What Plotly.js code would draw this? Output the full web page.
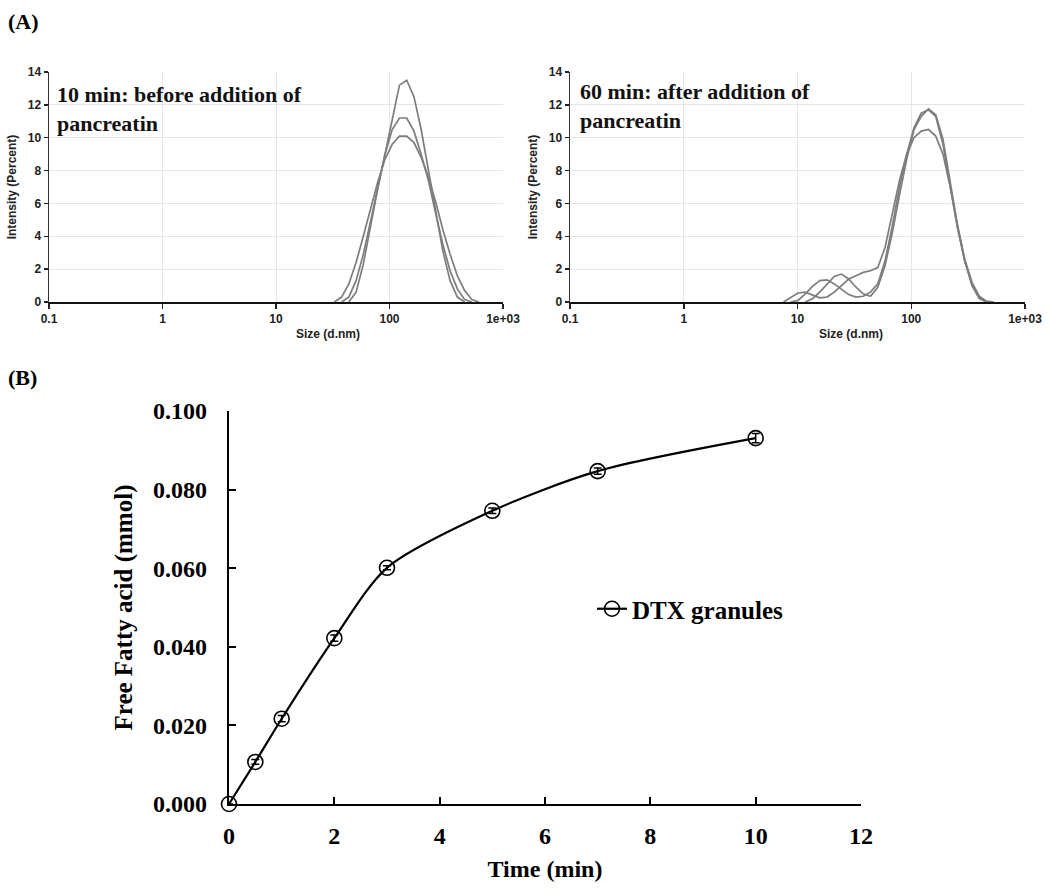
<!DOCTYPE html>
<html>
<head>
<meta charset="utf-8">
<script src="https://cdn.plot.ly/plotly-3.0.1.min.js"></script>
<style>
  html, body { margin: 0; padding: 0; background: #ffffff; }
  #chart { width: 1050px; height: 893px; }
</style>
</head>
<body>
<div id="chart"></div>
<script>
// ---------------- DATA ----------------
// DLS size classes (nm)
const sizeBins = [5.615, 6.503, 7.531, 8.721, 10.1, 11.7, 13.54, 15.69, 18.17, 21.04, 24.36, 28.21,
  32.67, 37.84, 43.82, 50.75, 58.77, 68.06, 78.82, 91.28, 105.7, 122.4, 141.8, 164.2, 190.1,
  220.2, 255.0, 295.3, 342.0, 396.1, 458.7, 531.2, 615.1, 712.4, 825.0];

// Panel A, left: 10 min, before addition of pancreatin (intensity %)
const before_run1 = [null, null, null, null, null, null, null, null, null, null, null, null,
  null, null, 0, 0.6, 2.3, 4.7, 6.9, 9.0, 11.2, 13.2, 13.5, 12.5, 10.5,
  8.0, 5.4, 3.1, 1.3, 0.3, 0, null, null, null, null];
const before_run2 = [null, null, null, null, null, null, null, null, null, null, null, null,
  null, 0, 0.3, 1.3, 2.9, 4.9, 7.0, 9.0, 10.5, 11.2, 11.2, 10.4, 9.0,
  7.4, 5.4, 3.5, 1.9, 0.8, 0.15, 0, null, null, null];
const before_run3 = [null, null, null, null, null, null, null, null, null, null, null, null,
  0, 0.3, 1.1, 2.4, 4.0, 5.7, 7.3, 8.7, 9.6, 10.1, 10.1, 9.7, 8.8,
  7.6, 6.1, 4.4, 2.9, 1.6, 0.7, 0.15, 0, null, null];

// Panel A, right: 60 min, after addition of pancreatin (intensity %)
const after_run1 = [null, null, 0, 0.3, 0.55, 0.6, 0.45, 0.25, 0.3, 0.6, 1.0, 1.4,
  1.6, 1.8, 1.9, 2.1, 3.3, 5.3, 7.4, 9.0, 10.0, 10.4, 10.5, 10.1, 9.0,
  7.0, 4.6, 2.5, 1.0, 0.2, 0, null, null, null, null];
const after_run2 = [null, null, null, 0, 0.1, 0.5, 0.95, 1.3, 1.35, 1.1, 0.8, 0.45,
  0.3, 0.35, 0.6, 1.1, 2.5, 4.6, 7.0, 9.0, 10.6, 11.5, 11.7, 11.3, 9.6,
  7.0, 4.5, 2.5, 1.1, 0.3, 0, null, null, null, null];
const after_run3 = [null, null, null, null, null, 0, 0.2, 0.6, 1.1, 1.55, 1.7, 1.4,
  0.9, 0.5, 0.35, 0.9, 2.2, 4.2, 6.5, 8.7, 10.5, 11.3, 11.75, 11.4, 9.9,
  7.2, 4.7, 2.6, 1.2, 0.35, 0.05, 0, null, null, null];

// Panel A tick labels
const sizeTickVals = [0.1, 1, 10, 100, 1000];
const sizeTickText = ['0.1', '1', '10', '100', '1e+03'];

// Panel B: free fatty acid release
const timeMin = [0, 0.5, 1, 2, 3, 5, 7, 10];
const ffaMmol = [0, 0.0107, 0.0217, 0.0422, 0.0601, 0.0746, 0.0847, 0.0931];
const ffaErr  = [0, 0.0006, 0.0008, 0.0008, 0.0005, 0.0007, 0.0008, 0.0012];

// ---------------- LAYOUT HELPERS ----------------
const W = 1050, H = 893;
const fx = p => p / W;
const fy = p => 1 - p / H;

const SANS = 'Liberation Sans, Arial, sans-serif';
const SERIF = 'Liberation Serif, Times New Roman, serif';
const GRAY = '#7d7d7d';

function dlsTrace(y, xa, ya) {
  return {
    x: sizeBins, y: y, xaxis: xa, yaxis: ya, type: 'scatter', mode: 'lines',
    line: { color: GRAY, width: 1.7 }, showlegend: false, hoverinfo: 'skip', connectgaps: false
  };
}

const traces = [
  dlsTrace(before_run3, 'x', 'y'),
  dlsTrace(before_run2, 'x', 'y'),
  dlsTrace(before_run1, 'x', 'y'),
  dlsTrace(after_run1, 'x2', 'y2'),
  dlsTrace(after_run2, 'x2', 'y2'),
  dlsTrace(after_run3, 'x2', 'y2'),
  {
    x: timeMin, y: ffaMmol, xaxis: 'x3', yaxis: 'y3', type: 'scatter', mode: 'lines+markers',
    name: 'DTX granules',
    line: { color: '#000000', width: 2.2, shape: 'spline', smoothing: 0.8 },
    marker: { symbol: 'circle-open', size: 15, color: '#000000', line: { width: 1.6, color: '#000000' } },
    error_y: { type: 'data', array: ffaErr, visible: true, color: '#000000', thickness: 1.5, width: 4 },
    cliponaxis: false, showlegend: true
  }
];

function dlsX(domain, anchor) {
  return {
    domain: domain, anchor: anchor, type: 'log', range: [-1, 3],
    tickvals: sizeTickVals, ticktext: sizeTickText,
    showgrid: true, gridcolor: '#e6e6e6', gridwidth: 1,
    ticks: 'outside', ticklen: 5, tickwidth: 1.5, tickcolor: '#222',
    showline: true, linecolor: '#111', linewidth: 2, zeroline: false,
    tickfont: { family: SANS, size: 12, color: '#222', weight: 'bold' },
    fixedrange: true
  };
}
function dlsY(domain, anchor) {
  return {
    domain: domain, anchor: anchor, range: [0, 14], dtick: 2,
    showgrid: true, gridcolor: '#e6e6e6', gridwidth: 1,
    ticks: 'outside', ticklen: 4, tickwidth: 1.5, tickcolor: '#222',
    showline: true, linecolor: '#333', linewidth: 1.5, zeroline: false,
    tickfont: { family: SANS, size: 12, color: '#222', weight: 'bold' },
    title: { text: 'Intensity (Percent)', font: { family: SANS, size: 12, color: '#222', weight: 'bold' }, standoff: 8 },
    fixedrange: true
  };
}

const yDomA = [fy(302), fy(72)];

const layout = {
  width: W, height: H,
  margin: { l: 0, r: 0, t: 0, b: 0 },
  paper_bgcolor: '#ffffff', plot_bgcolor: 'rgba(0,0,0,0)',
  showlegend: true,
  legend: {
    x: fx(592), y: fy(609), xanchor: 'left', yanchor: 'middle',
    bgcolor: 'rgba(0,0,0,0)', borderwidth: 0,
    font: { family: SERIF, size: 25, color: '#000', weight: 'bold' }
  },
  xaxis: dlsX([fx(49), fx(503)], 'y'),
  yaxis: dlsY(yDomA, 'x'),
  xaxis2: dlsX([fx(570), fx(1025)], 'y2'),
  yaxis2: dlsY(yDomA, 'x2'),
  xaxis3: {
    domain: [fx(229), fx(861)], anchor: 'y3', range: [0, 12], dtick: 2,
    showgrid: false, zeroline: false, showline: true, linecolor: '#000', linewidth: 2.2,
    ticks: 'inside', ticklen: 7, tickwidth: 2, tickcolor: '#000',
    ticklabelstandoff: 9,
    tickfont: { family: SERIF, size: 24, color: '#000', weight: 'bold' },
    title: { text: 'Time (min)', font: { family: SERIF, size: 24, color: '#000', weight: 'bold' }, standoff: 12 },
    fixedrange: true
  },
  yaxis3: {
    domain: [fy(804), fy(411)], anchor: 'x3', range: [0, 0.1], dtick: 0.02, tickformat: '.3f',
    showgrid: false, zeroline: false, showline: true, linecolor: '#000', linewidth: 2.2,
    ticks: 'inside', ticklen: 7, tickwidth: 2, tickcolor: '#000',
    ticklabelstandoff: 15,
    tickfont: { family: SERIF, size: 24, color: '#000', weight: 'bold' },
    title: { text: 'Free Fatty acid (mmol)', font: { family: SERIF, size: 25, color: '#000', weight: 'bold' }, standoff: 13 },
    fixedrange: true
  },
  annotations: [
    { text: '(A)', xref: 'paper', yref: 'paper', x: fx(6), y: fy(21), xanchor: 'left', yanchor: 'middle',
      showarrow: false, font: { family: SERIF, size: 22, color: '#000', weight: 'bold' } },
    { text: '(B)', xref: 'paper', yref: 'paper', x: fx(6), y: fy(377), xanchor: 'left', yanchor: 'middle',
      showarrow: false, font: { family: SERIF, size: 22, color: '#000', weight: 'bold' } },
    { text: '10 min: before addition of<br>pancreatin', xref: 'paper', yref: 'paper', x: fx(55), y: fy(109),
      xanchor: 'left', yanchor: 'middle', align: 'left', showarrow: false,
      font: { family: SERIF, size: 22, color: '#111', weight: 'bold' } },
    { text: '60 min: after addition of<br>pancreatin', xref: 'paper', yref: 'paper', x: fx(578), y: fy(106),
      xanchor: 'left', yanchor: 'middle', align: 'left', showarrow: false,
      font: { family: SERIF, size: 22, color: '#111', weight: 'bold' } },
    { text: 'Size (d.nm)', xref: 'paper', yref: 'paper', x: fx(328), y: fy(334),
      xanchor: 'center', yanchor: 'middle', showarrow: false,
      font: { family: SANS, size: 12, color: '#222', weight: 'bold' } },
    { text: 'Size (d.nm)', xref: 'paper', yref: 'paper', x: fx(851), y: fy(334),
      xanchor: 'center', yanchor: 'middle', showarrow: false,
      font: { family: SANS, size: 12, color: '#222', weight: 'bold' } }
  ]
};

Plotly.newPlot('chart', traces, layout, { displayModeBar: false, staticPlot: true });
</script>
</body>
</html>
